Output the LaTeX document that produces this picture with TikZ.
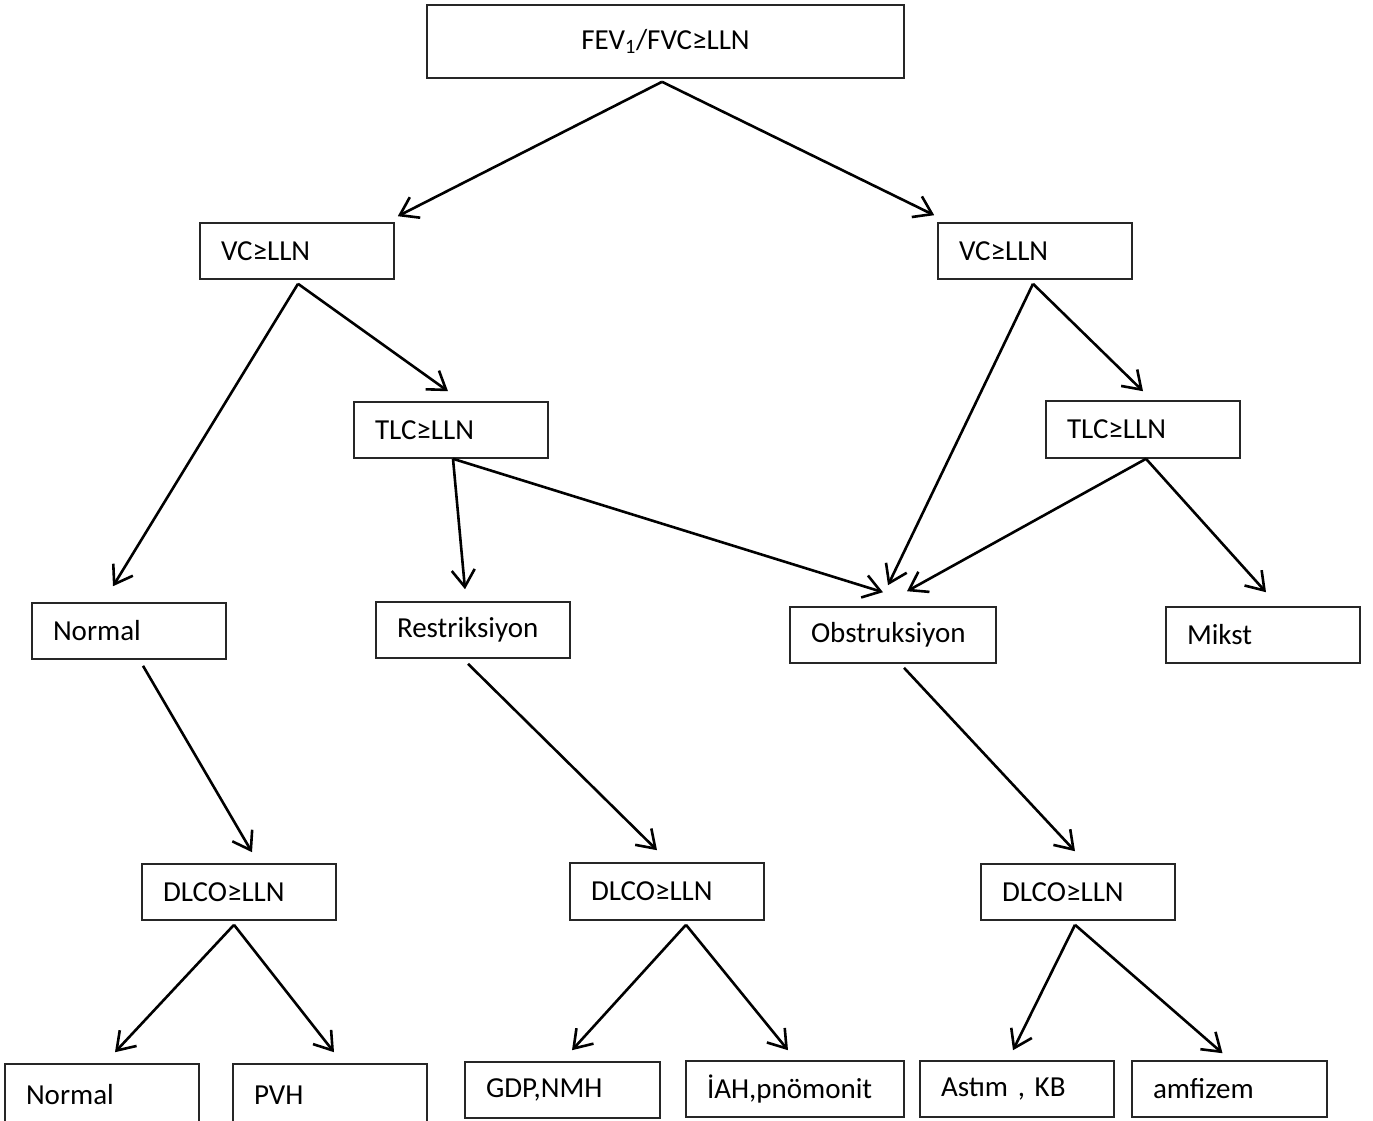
\documentclass[tikz,border=0pt]{standalone}
\usepackage{fontspec}
\setmainfont{Carlito}
\usetikzlibrary{arrows.meta,calc}
\begin{document}
\begin{tikzpicture}[x=1pt,y=-1pt,
  box/.style={draw=black!85, line width=1.6pt, rectangle, inner xsep=21pt, inner ysep=0pt,
    align=left, font=\fontsize{29}{34}\selectfont, anchor=center},
  arr/.style={line width=2.6pt, -{Straight Barb[length=17pt,width=23pt]}}]
\useasboundingbox (0,0) rectangle (1373,1120);
\clip (0,0) rectangle (1373,1120);
\fill[white] (0,0) rectangle (1373,1120);
% level 0
\node[box, align=center, text width=435pt, minimum height=73pt] (top) at (665.5,41.5) {FEV\textsubscript{1}/FVC≥LLN};
% level 1
\node[box, text width=152pt, minimum height=56pt] (vcl) at (297,251) {VC≥LLN};
\node[box, text width=152pt, minimum height=56pt] (vcr) at (1035,251) {VC≥LLN};
% level 2
\node[box, text width=152pt, minimum height=56pt] (tlcl) at (451,430) {TLC≥LLN};
\node[box, text width=152pt, minimum height=57pt] (tlcr) at (1143,429.5) {TLC≥LLN};
% level 3
\node[box, text width=152pt, minimum height=56pt] (norm) at (129,631) {Normal};
\node[box, text width=152pt, minimum height=56pt] (restr) at (473,630) {Restriksiyon};
\node[box, text width=164pt, minimum height=56pt] (obs) at (893,635) {Obstruksiyon};
\node[box, text width=152pt, minimum height=56pt] (mikst) at (1263,635) {Mikst};
% level 4
\node[box, text width=152pt, minimum height=56pt] (dl1) at (239,892) {DLCO≥LLN};
\node[box, text width=152pt, minimum height=57pt] (dl2) at (667,891.5) {DLCO≥LLN};
\node[box, text width=152pt, minimum height=56pt] (dl3) at (1078,892) {DLCO≥LLN};
% level 5
\node[box, text width=152pt, minimum height=62pt] (b1) at (102,1095) {Normal};
\node[box, text width=152pt, minimum height=62pt] (b2) at (330,1095) {PVH};
\node[box, text width=153pt, minimum height=56pt] (b3) at (562.5,1090) {GDP,NMH};
\node[box, text width=176pt, minimum height=56pt] (b4) at (795,1089) {İAH,pnömonit};
\node[box, text width=152pt, minimum height=56pt] (b5) at (1017,1089) {Astım , KB};
\node[box, text width=153pt, minimum height=56pt] (b6) at (1229.5,1089) {amfizem};
% connectors
\draw[arr] ($(top.south)+(-3.5,3)$) -- ($(vcl.north east)+(3,-6)$);
\draw[arr] ($(top.south)+(-3.5,3)$) -- ($(vcr.north west)+(-3,-7)$);
\draw[arr] ($(vcl.south)+(1,4)$) -- ($(norm.north)+(-16,-16)$);
\draw[arr] ($(vcl.south)+(1,4)$) -- ($(tlcl.north)+(-3,-10)$);
\draw[arr] ($(vcr.south)+(-2,4)$) -- ($(obs.north)+(-5,-21)$);
\draw[arr] ($(vcr.south)+(-2,4)$) -- ($(tlcr.north)+(0,-9)$);
\draw[arr] ($(tlcl.south)+(2,0)$) -- ($(restr.north)+(-8,-12)$);
\draw[arr] ($(tlcl.south)+(2,0)$) -- ($(obs.north)+(-10,-14)$);
\draw[arr] ($(tlcr.south)+(3,0)$) -- ($(obs.north)+(14,-15)$);
\draw[arr] ($(tlcr.south)+(3,0)$) -- ($(mikst.north)+(3,-14)$);
\draw[arr] ($(norm.south)+(14,6)$) -- ($(dl1.north)+(13,-11)$);
\draw[arr] ($(restr.south)+(-5,5)$) -- ($(dl2.north)+(-10,-12)$);
\draw[arr] ($(obs.south)+(11,4)$) -- ($(dl3.north)+(-3,-12)$);
\draw[arr] ($(dl1.south)+(-5,4)$) -- ($(b1.north)+(13,-11)$);
\draw[arr] ($(dl1.south)+(-5,4)$) -- ($(b2.north)+(4,-11)$);
\draw[arr] ($(dl2.south)+(19,4)$) -- ($(b3.north)+(9.5,-11)$);
\draw[arr] ($(dl2.south)+(19,4)$) -- ($(b4.north)+(-7,-10)$);
\draw[arr] ($(dl3.south)+(-3,4)$) -- ($(b5.north)+(-4,-10)$);
\draw[arr] ($(dl3.south)+(-3,4)$) -- ($(b6.north)+(-7,-7)$);
\end{tikzpicture}
\end{document}
